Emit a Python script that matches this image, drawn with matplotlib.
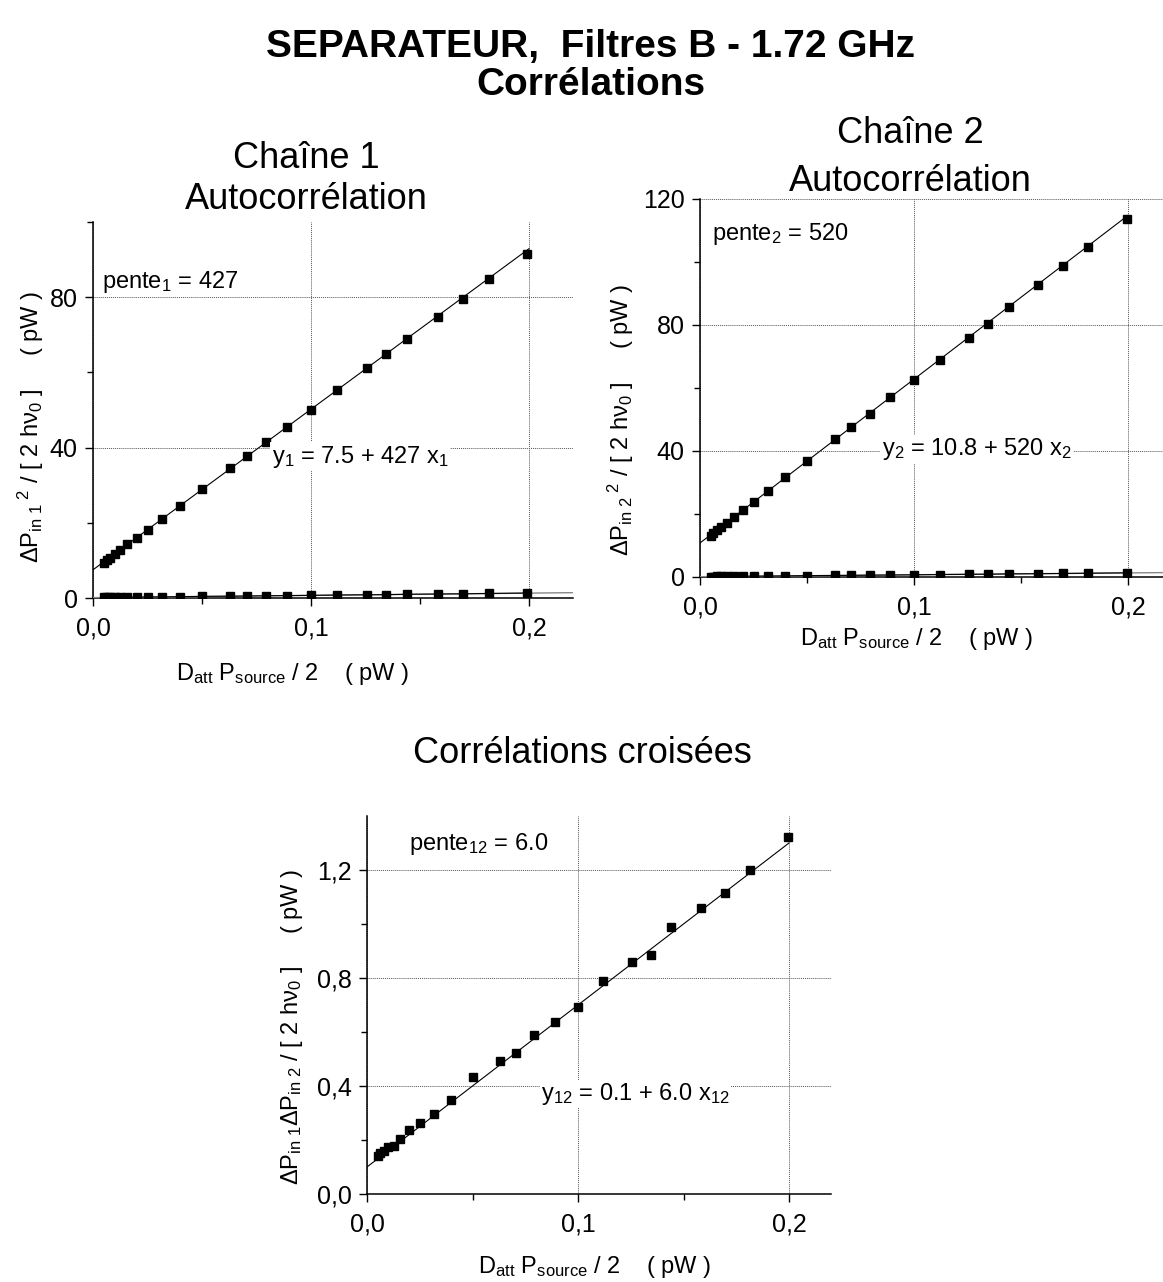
import matplotlib
matplotlib.use("Agg")
import matplotlib.pyplot as plt

plt.rcParams['font.family'] = ['Liberation Sans', 'DejaVu Sans']
plt.rcParams['mathtext.fontset'] = 'custom'
plt.rcParams['mathtext.rm'] = 'Liberation Sans'
plt.rcParams['mathtext.it'] = 'Liberation Sans'
plt.rcParams['mathtext.bf'] = 'Liberation Sans:bold'

# attenuated source power D_att P_source / 2 (pW)
x_pts = [0.0050, 0.0063, 0.0079, 0.0100, 0.0126, 0.0158, 0.0200, 0.0251,
         0.0316, 0.0398, 0.0501, 0.0630, 0.0707, 0.0793, 0.0890, 0.1000,
         0.1120, 0.1257, 0.1345, 0.1442, 0.1581, 0.1696, 0.1815, 0.1993]
# chain 1 autocorrelation
auto1 = [9.3, 10.0, 10.6, 11.6, 12.8, 14.3, 16.0, 18.2, 21.0, 24.6, 29.1, 34.6,
         37.8, 41.4, 45.6, 50.1, 55.4, 61.1, 65.0, 68.9, 74.7, 79.6, 84.8, 91.6]
# chain 2 autocorrelation
auto2 = [13.1, 13.9, 14.8, 15.8, 17.3, 19.0, 21.2, 23.7, 27.3, 31.6, 36.9, 43.7,
         47.6, 51.9, 57.0, 62.6, 68.8, 75.9, 80.4, 85.6, 92.6, 98.6, 104.9, 113.6]
# cross correlation
cross = [0.141, 0.151, 0.160, 0.173, 0.179, 0.202, 0.237, 0.264, 0.298, 0.347,
         0.432, 0.491, 0.523, 0.590, 0.638, 0.694, 0.789, 0.859, 0.884, 0.989,
         1.058, 1.116, 1.200, 1.322]

# linear fits (intercept, slope)
fit1 = (7.5, 427)
fit2 = (10.8, 520)
fit12 = (0.1, 6.0)

xticks = [0.0, 0.1, 0.2]
xticklabels = ['0,0', '0,1', '0,2']
yticks1 = [0, 40, 80]
yticks2 = [0, 40, 80, 120]
yticks3 = [0.0, 0.4, 0.8, 1.2]
yticklabels3 = ['0,0', '0,4', '0,8', '1,2']

W, H = 1163, 1282
fig = plt.figure(figsize=(W / 100, H / 100), dpi=100)


def add_ax(left, top, right, bottom):
    return fig.add_axes([left / W, 1 - bottom / H, (right - left) / W, (bottom - top) / H])


def style(ax, ymax, yt, ytl, yminor):
    ax.set_xlim(0, 0.22)
    ax.set_ylim(0, ymax)
    for s in ['top', 'right']:
        ax.spines[s].set_visible(False)
    for s in ['left', 'bottom']:
        ax.spines[s].set_linewidth(1.1)
    ax.set_xticks(xticks)
    ax.set_xticklabels(xticklabels)
    ax.set_xticks([0.05, 0.15], minor=True)
    ax.set_yticks(yt)
    ax.set_yticklabels(ytl)
    ax.set_yticks(yminor, minor=True)
    ax.tick_params(which='major', direction='out', length=6, width=1, labelsize=18)
    ax.tick_params(which='minor', direction='out', length=4, width=1)
    ax.tick_params(axis='x', pad=7)
    ax.tick_params(axis='y', pad=5)
    ax.grid(True, which='major', ls=(0, (1, 1)), lw=0.7, color='#555555')
    ax.set_axisbelow(True)


def draw_fit(ax, fit, x0, x1, **kw):
    a, b = fit
    ax.plot([x0, x1], [a + b * x0, a + b * x1], **kw)


mk = dict(marker='s', ms=6, color='black', ls='none', zorder=4)
box = dict(fc='white', ec='none', pad=1)

# Chaine 1
ax1 = add_ax(93, 222, 93 + 0.22 * 2180, 598)
style(ax1, 100, yticks1, [str(v) for v in yticks1], [20, 60, 100])
draw_fit(ax1, fit1, 0, 0.2, color='black', lw=0.8, zorder=3)
draw_fit(ax1, fit12, 0, 0.22, color='#888888', lw=1.0, zorder=3)
ax1.plot(x_pts, cross, color='black', lw=0.8, zorder=3)
ax1.plot(x_pts, auto1, **mk)
ax1.plot(x_pts, cross, **mk)
ax1.text(0.004, 82.5, 'pente$_{1}$ = 427', fontsize=17, va='baseline')
ax1.text(0.082, 36.0, 'y$_{1}$ = 7.5 + 427 x$_{1}$', fontsize=17, va='baseline', bbox=box, zorder=5)

# Chaine 2
ax2 = add_ax(700, 199, 700 + 0.22 * 2140, 577)
style(ax2, 120, yticks2, [str(v) for v in yticks2], [20, 60, 100])
draw_fit(ax2, fit2, 0, 0.2, color='black', lw=0.8, zorder=3)
draw_fit(ax2, fit12, 0, 0.22, color='#888888', lw=1.0, zorder=3)
ax2.plot(x_pts, cross, color='black', lw=0.8, zorder=3)
ax2.plot(x_pts, auto2, **mk)
ax2.plot(x_pts, cross, **mk)
ax2.text(0.0055, 107, 'pente$_{2}$ = 520', fontsize=17, va='baseline')
ax2.text(0.085, 38.7, 'y$_{2}$ = 10.8 + 520 x$_{2}$', fontsize=17, va='baseline', bbox=box, zorder=5)

# cross correlation
ax3 = add_ax(367, 816, 367 + 0.22 * 2110, 1194)
style(ax3, 1.4, yticks3, yticklabels3, [0.2, 0.6, 1.0])
draw_fit(ax3, fit12, 0, 0.2, color='black', lw=0.8, zorder=3)
ax3.plot(x_pts, cross, **mk)
ax3.text(0.020, 1.274, 'pente$_{12}$ = 6.0', fontsize=17, va='baseline')
ax3.text(0.0825, 0.348, 'y$_{12}$ = 0.1 + 6.0 x$_{12}$', fontsize=17, va='baseline', bbox=box, zorder=5)

# titles
fig.text(591 / W, 1 - 57 / H, 'SEPARATEUR,  Filtres B - 1.72 GHz', fontsize=28,
         fontweight='bold', ha='center', va='baseline')
fig.text(591 / W, 1 - 95 / H, 'Corrélations', fontsize=28,
         fontweight='bold', ha='center', va='baseline')
fig.text(306 / W, 1 - 168 / H, 'Chaîne 1', fontsize=26, ha='center', va='baseline')
fig.text(306 / W, 1 - 209 / H, 'Autocorrélation', fontsize=26, ha='center', va='baseline')
fig.text(910 / W, 1 - 143 / H, 'Chaîne 2', fontsize=26, ha='center', va='baseline')
fig.text(910 / W, 1 - 191 / H, 'Autocorrélation', fontsize=26, ha='center', va='baseline')
fig.text(582 / W, 1 - 763 / H, 'Corrélations croisées', fontsize=26, ha='center', va='baseline')

# axis labels
xlab = r'D$_{\mathrm{att}}$ P$_{\mathrm{source}}$ / 2    ( pW )'
fig.text(293 / W, 1 - 680 / H, xlab, fontsize=17, ha='center', va='baseline')
fig.text(917 / W, 1 - 645 / H, xlab, fontsize=17, ha='center', va='baseline')
fig.text(595 / W, 1 - 1273 / H, xlab, fontsize=17, ha='center', va='baseline')

ylab1 = r'$\Delta$P$_{\mathrm{in\ 1}}$$^{\ 2}$ / [ 2 h$\nu_{0}$ ]     ( pW )'
ylab2 = r'$\Delta$P$_{\mathrm{in\ 2}}$$^{\ 2}$ / [ 2 h$\nu_{0}$ ]     ( pW )'
ylab3 = r'$\Delta$P$_{\mathrm{in\ 1}}$$\Delta$P$_{\mathrm{in\ 2}}$ / [ 2 h$\nu_{0}$ ]     ( pW )'
fig.text(31 / W, 1 - 427 / H, ylab1, fontsize=17, rotation=90, ha='center', va='center')
fig.text(621 / W, 1 - 420 / H, ylab2, fontsize=17, rotation=90, ha='center', va='center')
fig.text(292 / W, 1 - 1027 / H, ylab3, fontsize=17, rotation=90, ha='center', va='center')

fig.savefig('out.png', dpi=100)
